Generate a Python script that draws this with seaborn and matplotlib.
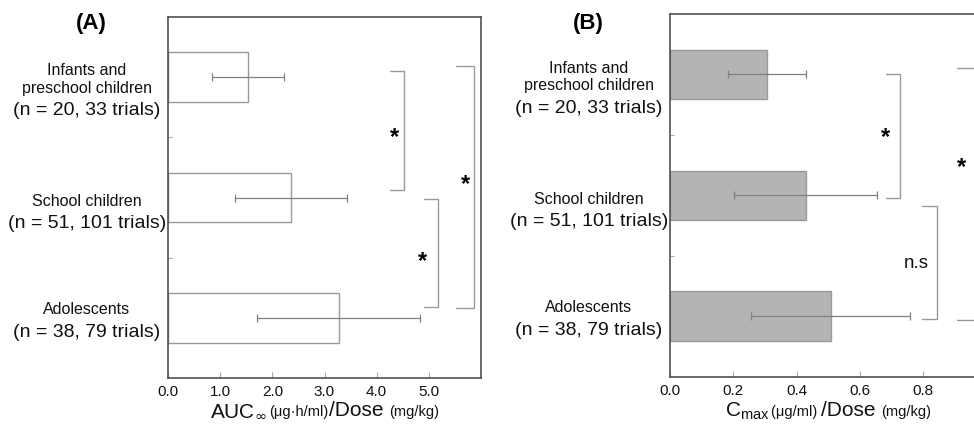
import matplotlib
matplotlib.use("Agg")
import matplotlib.pyplot as plt
from matplotlib.offsetbox import TextArea, HPacker, AnnotationBbox
import pandas as pd
import seaborn as sns

groups = ["Infants and preschool children", "School children", "Adolescents"]
group_top = ["Infants and\npreschool children", "School children", "Adolescents"]
group_n = ["(n = 20, 33 trials)", "(n = 51, 101 trials)", "(n = 38, 79 trials)"]

auc_mean = [1.54, 2.36, 3.27]
auc_sd = [0.69, 1.07, 1.57]
cmax_mean = [0.307, 0.428, 0.507]
cmax_sd = [0.123, 0.227, 0.252]

df = pd.DataFrame({"group": groups, "auc": auc_mean, "auc_sd": auc_sd,
                   "cmax": cmax_mean, "cmax_sd": cmax_sd})

# significance brackets: (y from, y to, arm x, bracket x, label, label x, label y)
auc_brackets = [(-0.05, 0.94, 4.26, 4.52, "*", 4.34, 0.50),
                (1.01, 1.91, 4.90, 5.17, "*", 4.88, 1.53),
                (-0.09, 1.92, 5.53, 5.86, "*", 5.70, 0.89)]
cmax_brackets = [(0.0, 1.02, 0.681, 0.727, "*", 0.680, 0.52),
                 (1.09, 2.02, 0.795, 0.842, "n.s", 0.779, 1.56),
                 (-0.05, 2.03, 0.905, 0.99, "*", 0.921, 0.77)]

sns.set_theme(style="white")
plt.rcParams["font.family"] = ["Liberation Sans", "DejaVu Sans"]
plt.rcParams["text.color"] = "#111111"
plt.rcParams["xtick.labelcolor"] = "#111111"

W, H = 974, 428
fig = plt.figure(figsize=(W / 100, H / 100), dpi=100)
axA = fig.add_axes([168 / W, 50 / H, 313 / W, 361 / H])
axB = fig.add_axes([670 / W, 51.3 / H, 316.7 / W, 362.7 / H])

spine_c = "#505050"
line_c = "#9a9a9a"
err_c = "#808080"
label_y = [0.28, 1.22, 2.12]


def panel(ax, col, sd_col, fill, xlim, xticks, brackets, ax_w):
    sns.barplot(data=df, x=col, y="group", orient="h", color=fill,
                edgecolor=line_c, linewidth=1, width=0.41, saturation=1,
                errorbar=None, ax=ax)
    ypos = ax.get_yticks()
    ax.errorbar(df[col], ypos, xerr=df[sd_col], fmt="none", ecolor=err_c,
                elinewidth=0.9, capsize=3, capthick=0.9)
    ax.set_xlim(*xlim)
    ax.set_ylim(2.5, -0.5)
    ax.set_xticks(xticks)
    ax.set_xticklabels([f"{t:.1f}" for t in xticks], fontsize=11)
    ax.set_yticks(ypos)
    ax.set_yticklabels([])
    ax.set_yticks([0.5, 1.5], minor=True)
    ax.tick_params(axis="x", direction="in", length=4, color="#aaaaaa",
                   width=0.8, bottom=True, pad=5)
    ax.tick_params(axis="y", which="major", length=0)
    ax.tick_params(axis="y", which="minor", direction="in", length=3,
                   color="#aaaaaa", width=0.8, left=True)
    ax.set_xlabel("")
    ax.set_ylabel("")
    for s in ax.spines.values():
        s.set_color(spine_c)
        s.set_linewidth(1.2)
    trans = ax.get_yaxis_transform()
    dx = -81 / ax_w
    for top, n, y in zip(group_top, group_n, label_y):
        ax.text(dx, y, n, transform=trans, ha="center", va="center",
                fontsize=14, clip_on=False)
        ax.annotate(top, xy=(dx, y), xycoords=trans, xytext=(0, 11),
                    textcoords="offset points", ha="center", va="bottom",
                    fontsize=11.5, annotation_clip=False)
    for y0, y1, xa, xv, lab, lx, ly in brackets:
        ax.plot([xa, xv, xv, xa], [y0, y0, y1, y1], color=line_c, lw=1,
                clip_on=False)
        if lab == "*":
            ax.text(lx, ly, lab, ha="center", va="center", fontsize=17,
                    fontweight="bold", color="black", clip_on=False)
        else:
            ax.text(lx, ly, lab, ha="center", va="center", fontsize=13.5,
                    clip_on=False)


panel(axA, "auc", "auc_sd", "white", (0, 6.0), [0, 1, 2, 3, 4, 5],
      auc_brackets, 313)
panel(axB, "cmax", "cmax_sd", "#b4b4b4", (0, 1.0), [0, 0.2, 0.4, 0.6, 0.8],
      cmax_brackets, 316.7)


def xlabel(ax, parts, y):
    boxes = [TextArea(t, textprops=dict(size=s, color="#111111")) for t, s in parts]
    pack = HPacker(children=boxes, align="baseline", pad=0, sep=0)
    ab = AnnotationBbox(pack, (0.5, y), xycoords="axes fraction",
                        box_alignment=(0.5, 0.5), frameon=False,
                        annotation_clip=False)
    ax.add_artist(ab)


xlabel(axA, [("AUC$_{\\infty}$ ", 15), ("(\u03bcg\u00b7h/ml)", 10.5),
             ("/Dose ", 15), ("(mg/kg)", 10.5)], -0.09)
xlabel(axB, [("C$_{\\mathregular{max}}$ ", 15), ("(\u03bcg/ml) ", 10.5),
             ("/Dose ", 15), ("(mg/kg)", 10.5)], -0.095)

fig.text(91 / W, 1 - 23 / H, "(A)", ha="center", va="center", fontsize=16,
         fontweight="bold", color="black")
fig.text(588 / W, 1 - 23 / H, "(B)", ha="center", va="center", fontsize=16,
         fontweight="bold", color="black")

fig.savefig("out.png", dpi=100)
